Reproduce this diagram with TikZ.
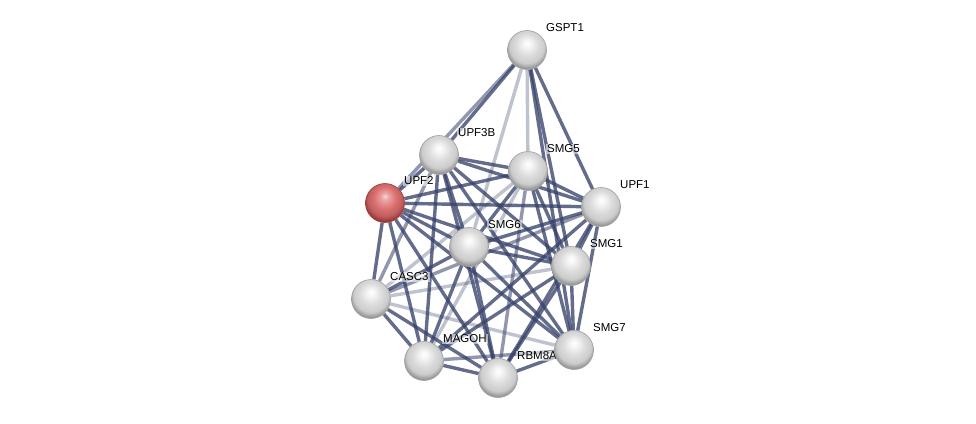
\documentclass[tikz,border=0pt]{standalone}
\usepackage{fontspec}
\setmainfont{Liberation Sans}
\usetikzlibrary{backgrounds}
\definecolor{edgecol}{RGB}{56,66,106}
\definecolor{seedmid}{RGB}{222,112,112}
\definecolor{seedrim}{RGB}{160,55,55}
\pgfdeclareradialshading{protball}{\pgfpoint{0bp}{9bp}}{color(0bp)=(white); color(5bp)=(white!96!black); color(14bp)=(white!86!black); color(22bp)=(white!80!black); color(27bp)=(white!60!black); color(50bp)=(white!60!black)}
\pgfdeclareradialshading{seedball}{\pgfpoint{0bp}{9bp}}{color(0bp)=(white!70!seedmid); color(5bp)=(white!35!seedmid); color(14bp)=(seedmid); color(22bp)=(seedmid!85!black); color(27bp)=(seedrim); color(50bp)=(seedrim)}
\tikzset{
  protein/.style={circle, minimum size=39pt, inner sep=0pt, shading=protball, draw=gray!75, line width=0.6pt},
  seed/.style={protein, shading=seedball, draw=seedrim},
  plabel/.style={anchor=west, inner sep=1pt, fill=white, fill opacity=0.55, text opacity=1, font=\fontsize{11.5}{13}\selectfont},
  edgeA/.style={draw=edgecol, line width=3.4pt, opacity=0.78},
  edgeB/.style={draw=edgecol, line width=3.4pt, opacity=0.55},
  edgeC/.style={draw=edgecol, line width=3.4pt, opacity=0.32}
}
\begin{document}
\begin{tikzpicture}[x=1pt,y=-1pt]
\useasboundingbox (0,0) rectangle (976,423);

\foreach \id/\x/\y/\txt in {G/527/50/GSPT1, U3/439/155/UPF3B, S5/528/171/SMG5, U1/601/207/UPF1,
  S6/469/247/SMG6, S1/571/266/SMG1, C/371/299/CASC3, M/424/361/MAGOH, R/498/378/RBM8A, S7/574/350/SMG7}
{
    \node[protein](\id) at (\x,\y){};
    \node[plabel](l\id) at ([shift={(18,-22)}]\id.center){\txt};
}
\node[seed](U2) at (385,203){};
\node[plabel](lU2) at ([shift={(18,-22)}]U2.center){UPF2};

\begin{pgfonlayer}{background}
\foreach \a/\b in {U2/U3, U2/S5, U2/U1, U2/S6, U2/S1, U2/C, U2/M, U2/R, U2/S7,
  U3/S5, U3/U1, U3/S6, U3/S1, U3/M, U3/R, U3/S7,
  S5/U1, S5/S6, S5/S1, S5/S7, U1/S6, U1/S1, U1/M, U1/R, U1/S7,
  S6/S1, S6/C, S6/M, S6/R, S6/S7, S1/M, S1/R, S1/S7,
  C/M, C/R, M/R, R/S7, G/U3, G/S1, G/S7, G/U1}
{
    \draw[edgeA](\a)--(\b);
}
\foreach \a/\b in {U3/C, S5/R, U1/C, M/S7, G/U2}
{
    \draw[edgeB](\a)--(\b);
}
\foreach \a/\b in {S5/C, S5/M, S1/C, C/S7, G/S6, G/S5}
{
    \draw[edgeC](\a)--(\b);
}
\end{pgfonlayer}
\end{tikzpicture}
\end{document}
